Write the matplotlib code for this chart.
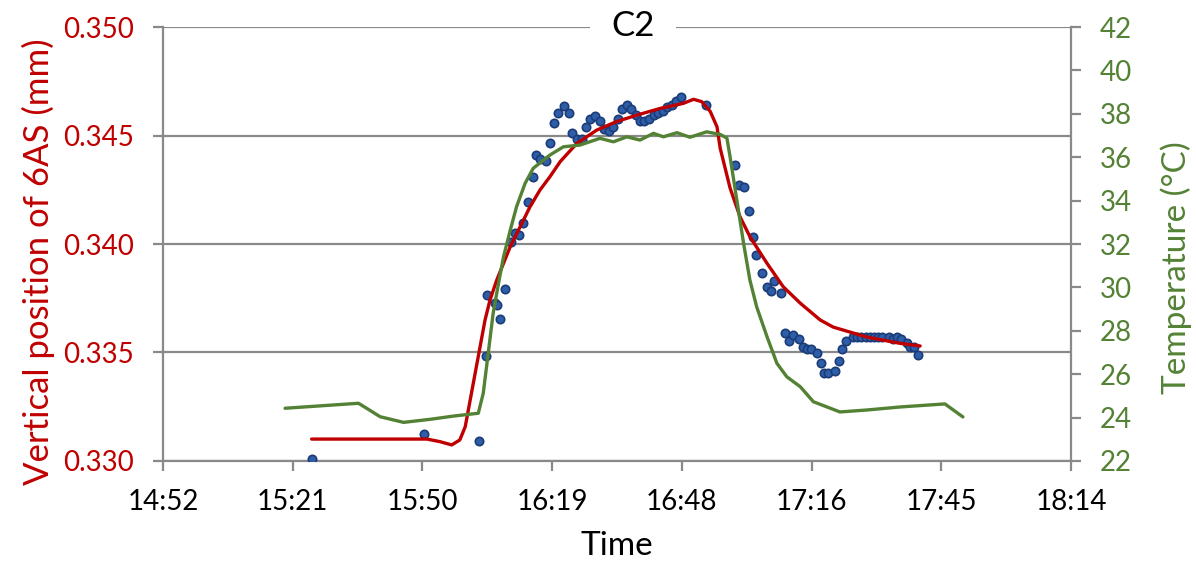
'''
Posición vertical de 6AS y temperatura frente al tiempo (C2)
'''

import numpy as np
import matplotlib.pyplot as plt

plt.rcParams['font.family'] = ['Lato', 'DejaVu Sans']

# Tiempo en minutos desde medianoche
# Puntos medidos (posición vertical, mm)
pos_time = [925.9, 950.8, 962.9, 964.5, 964.7, 966.4, 966.9, 967.7, 968.7, 970.0,
            971.0, 971.8, 972.7, 973.9, 975.0, 975.6, 976.6, 977.9, 978.8, 979.7,
            980.6, 981.9, 982.9, 983.7, 984.7, 985.8, 986.8, 987.7, 988.7, 989.9,
            990.8, 991.8, 992.7, 993.8, 994.7, 995.8, 996.6, 997.8, 998.7, 999.7,
            1000.7, 1001.8, 1002.8, 1003.8, 1004.7, 1005.9, 1006.7, 1007.7, 1013.4, 1019.8,
            1020.6, 1021.9, 1022.9, 1023.7, 1024.5, 1025.9, 1026.8, 1027.7, 1028.5, 1029.9,
            1030.9, 1031.7, 1032.6, 1033.9, 1034.9, 1035.7, 1036.6, 1037.9, 1038.8, 1039.6,
            1040.5, 1042.0, 1042.8, 1043.6, 1044.5, 1045.9, 1046.8, 1047.8, 1048.8, 1049.7,
            1050.7, 1051.6, 1052.5, 1053.9, 1054.8, 1055.7, 1056.6, 1057.9, 1058.6, 1059.6,
            1060.5]
pos_val = [0.33011, 0.33123, 0.33094, 0.33482, 0.33766, 0.33729, 0.33720, 0.33656, 0.33794, 0.34008,
           0.34052, 0.34043, 0.34098, 0.34192, 0.34310, 0.34411, 0.34393, 0.34384, 0.34467, 0.34559,
           0.34605, 0.34634, 0.34605, 0.34513, 0.34485, 0.34485, 0.34540, 0.34577, 0.34590, 0.34568,
           0.34531, 0.34522, 0.34540, 0.34577, 0.34623, 0.34642, 0.34623, 0.34596, 0.34568, 0.34568,
           0.34577, 0.34596, 0.34605, 0.34614, 0.34633, 0.34642, 0.34660, 0.34679, 0.34642, 0.34365,
           0.34273, 0.34264, 0.34153, 0.34034, 0.33951, 0.33868, 0.33803, 0.33785, 0.33831, 0.33776,
           0.33591, 0.33554, 0.33582, 0.33564, 0.33527, 0.33517, 0.33517, 0.33499, 0.33453, 0.33407,
           0.33407, 0.33416, 0.33462, 0.33517, 0.33554, 0.33573, 0.33573, 0.33573, 0.33573, 0.33573,
           0.33573, 0.33573, 0.33573, 0.33573, 0.33564, 0.33573, 0.33564, 0.33545, 0.33527, 0.33527,
           0.33490]

# Curva ajustada (roja)
fit_time = [925.8, 951.4, 954.3, 956.9, 958.7, 959.9, 961.0, 962.1, 963.2, 964.3,
            965.4, 966.9, 968.4, 969.9, 972.1, 974.3, 976.5, 978.7, 981.0, 984.7,
            989.1, 993.5, 998.0, 1003.2, 1008.3, 1010.6, 1012.4, 1014.3, 1015.8, 1016.5,
            1018.7, 1020.9, 1023.1, 1026.9, 1030.5, 1034.3, 1038.7, 1041.6, 1049.1, 1056.5,
            1060.9]
fit_val = [0.33101, 0.33101, 0.33089, 0.33074, 0.33097, 0.33158, 0.33281, 0.33404, 0.33527, 0.33650,
           0.33742, 0.33834, 0.33911, 0.33988, 0.34080, 0.34172, 0.34249, 0.34310, 0.34380, 0.34464,
           0.34525, 0.34564, 0.34594, 0.34625, 0.34648, 0.34667, 0.34656, 0.34611, 0.34540, 0.34442,
           0.34258, 0.34126, 0.34034, 0.33911, 0.33803, 0.33727, 0.33650, 0.33617, 0.33571, 0.33542,
           0.33530]

# Temperatura (verde)
temp_time = [919.9, 936.2, 938.0, 941.0, 946.2, 952.1, 957.3, 962.8, 963.9, 965.0,
             966.1, 967.3, 968.4, 969.9, 971.3, 973.2, 975.0, 977.3, 978.7, 981.7,
             985.4, 989.8, 992.8, 995.8, 998.7, 1001.7, 1003.9, 1006.9, 1009.8, 1013.5,
             1016.5, 1018.0, 1018.7, 1020.2, 1021.7, 1023.1, 1024.6, 1026.9, 1029.1, 1031.3,
             1034.3, 1037.2, 1043.1, 1049.1, 1056.5, 1066.4, 1070.4]
temp_val = [24.43, 24.66, 24.43, 24.04, 23.78, 23.92, 24.07, 24.20, 25.12, 26.96,
            28.81, 30.19, 31.41, 32.64, 33.72, 34.80, 35.49, 35.87, 36.10, 36.48,
            36.56, 36.87, 36.71, 36.94, 36.79, 37.10, 36.94, 37.13, 36.92, 37.17,
            37.05, 36.88, 36.02, 34.03, 32.03, 30.34, 29.11, 27.73, 26.50, 25.88,
            25.42, 24.73, 24.26, 24.35, 24.49, 24.63, 24.03]

# Marcas del eje x (cada 0.02 días)
x_ticks = [892.8, 921.6, 950.4, 979.2, 1008.0, 1036.8, 1065.6, 1094.4]
x_labels = ['14:52', '15:21', '15:50', '16:19', '16:48', '17:16', '17:45', '18:14']

gris = '#898989'
rojo = '#C00000'
verde = '#548235'

fig, ax = plt.subplots(figsize=(11.96, 5.63), dpi=100)
fig.subplots_adjust(left=0.1363, right=0.8955, bottom=0.1812, top=0.952)
ax2 = ax.twinx()

ax.plot(pos_time, pos_val, 'o', ms=6, mfc='#2E5EA8', mec='#1C3C78', mew=1.2, zorder=3)
ax.plot(fit_time, fit_val, color=rojo, lw=2.4, zorder=4,
        solid_joinstyle='round', solid_capstyle='round')
ax2.plot(temp_time, temp_val, color=verde, lw=2.4,
         solid_joinstyle='round', solid_capstyle='round')

ax.set_xlim(892.8, 1094.4)
ax.set_ylim(0.330, 0.350)
ax2.set_ylim(22, 42)

ax.set_xticks(x_ticks)
ax.set_xticklabels(x_labels)
ax.set_yticks(np.arange(0.330, 0.3501, 0.005))
ax.set_yticklabels(['%.3f' % v for v in np.arange(0.330, 0.3501, 0.005)])
ax2.set_yticks(np.arange(22, 43, 2))

# Grilla horizontal
ax.yaxis.grid(True, color=gris, lw=1.6)
ax.set_axisbelow(True)

for a in (ax, ax2):
    a.spines['top'].set_visible(False)
    for s in ('left', 'right', 'bottom'):
        a.spines[s].set_color(gris)
        a.spines[s].set_linewidth(1.6)
ax.spines['right'].set_visible(False)
ax2.spines['left'].set_visible(False)
ax2.spines['bottom'].set_visible(False)

ax.tick_params(axis='x', direction='out', length=7, width=1.6, color=gris,
               labelsize=20, pad=13, labelcolor='black')
ax.tick_params(axis='y', direction='out', length=7, width=1.6, color=gris,
               labelsize=20, pad=14, labelcolor=rojo)
ax2.tick_params(axis='y', direction='out', length=7, width=1.6, color=gris,
                labelsize=20, pad=14, labelcolor=verde)

ax.set_xlabel('Time', fontsize=24, labelpad=12)
ax.set_ylabel('Vertical position of 6AS (mm)', fontsize=25, color=rojo, labelpad=6, y=0.46)
ax2.set_ylabel('Temperature (°C)', fontsize=24, color=verde, labelpad=20, y=0.445)

# Título con fondo blanco sobre la línea superior
fig.text(633 / 1196, 1 - 26 / 563, 'C2', fontsize=25, ha='center', va='center',
         bbox=dict(facecolor='white', edgecolor='none', boxstyle='square', pad=0.6))

fig.savefig('out.png', dpi=100)
